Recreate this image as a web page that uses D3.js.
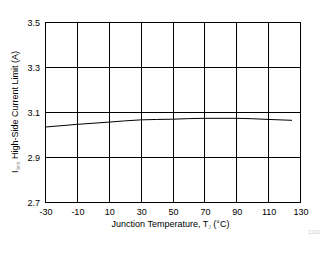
<!DOCTYPE html>
<html><head><meta charset="utf-8">
<script src="https://cdn.jsdelivr.net/npm/d3@7/dist/d3.min.js"></script>
<style>body{margin:0;background:#fff}svg{display:block}text{font-family:Arial,"Liberation Sans",sans-serif}</style>
</head><body><svg id="c" width="329" height="254"></svg>
<script>
const temps = [-30, -10, 10, 30, 50, 70, 90, 110, 125];
const limitA = [3.033, 3.045, 3.055, 3.065, 3.068, 3.072, 3.072, 3.067, 3.063];
const xTicks = [-30, -10, 10, 30, 50, 70, 90, 110, 130];
const yTicks = [2.7, 2.9, 3.1, 3.3, 3.5];

const svg = d3.select("#c");
const L = 45, R = 300, T = 22, B = 202;
const x = d3.scaleLinear().domain([-30, 130]).range([L, R]);
const y = d3.scaleLinear().domain([2.7, 3.5]).range([B, T]);

const g = svg.append("g");
g.selectAll(".vg").data(xTicks).join("line")
  .attr("x1", d => Math.round(x(d)) + 0.5).attr("x2", d => Math.round(x(d)) + 0.5)
  .attr("y1", T).attr("y2", B).attr("stroke", "#000").attr("stroke-width", 1);
g.selectAll(".hg").data(yTicks).join("line")
  .attr("y1", d => Math.round(y(d)) + 0.5).attr("y2", d => Math.round(y(d)) + 0.5)
  .attr("x1", L).attr("x2", R + 1).attr("stroke", "#000").attr("stroke-width", 1);

const xa = svg.append("g").attr("transform", `translate(0.5,${B})`)
  .call(d3.axisBottom(x).tickValues(xTicks).tickSize(0).tickPadding(7).tickFormat(d => String(d)));
xa.select(".domain").remove();
xa.selectAll("text").attr("font-size", 9).attr("font-family", "Arial,'Liberation Sans',sans-serif").attr("fill", "#000");

const ya = svg.append("g").attr("transform", `translate(${L},0.5)`)
  .call(d3.axisLeft(y).tickValues(yTicks).tickSize(0).tickPadding(5).tickFormat(d => d.toFixed(1)));
ya.select(".domain").remove();
ya.selectAll("text").attr("font-size", 9).attr("font-family", "Arial,'Liberation Sans',sans-serif").attr("fill", "#000");

svg.append("path").datum(temps.map((t, i) => [t, limitA[i]]))
  .attr("fill", "none").attr("stroke", "#000").attr("stroke-width", 1)
  .attr("d", d3.line().x(d => x(d[0])).y(d => y(d[1])).curve(d3.curveMonotoneX));

const xl = svg.append("text").attr("x", (L + R) / 2 - 2).attr("y", 227).attr("text-anchor", "middle")
  .attr("font-size", 9).attr("fill", "#000");
xl.append("tspan").text("Junction Temperature, T");
xl.append("tspan").attr("font-size", 5).attr("fill", "#777").attr("dy", 1.5).text("J");
xl.append("tspan").attr("dy", -1.5).text(" (°C)");

const yl = svg.append("text").attr("transform", `translate(18,${(T + B) / 2}) rotate(-90)`)
  .attr("text-anchor", "middle").attr("font-size", 9).attr("fill", "#000");
yl.append("tspan").text("I");
yl.append("tspan").attr("font-size", 5).attr("fill", "#999").attr("dy", 1.5).text("limit");
yl.append("tspan").attr("dy", -1.5).text(" High-Side Current Limit (A)");

svg.append("text").attr("x", 320).attr("y", 234).attr("text-anchor", "end")
  .attr("font-size", 5).attr("fill", "#ccc").text("C019");
</script></body></html>
